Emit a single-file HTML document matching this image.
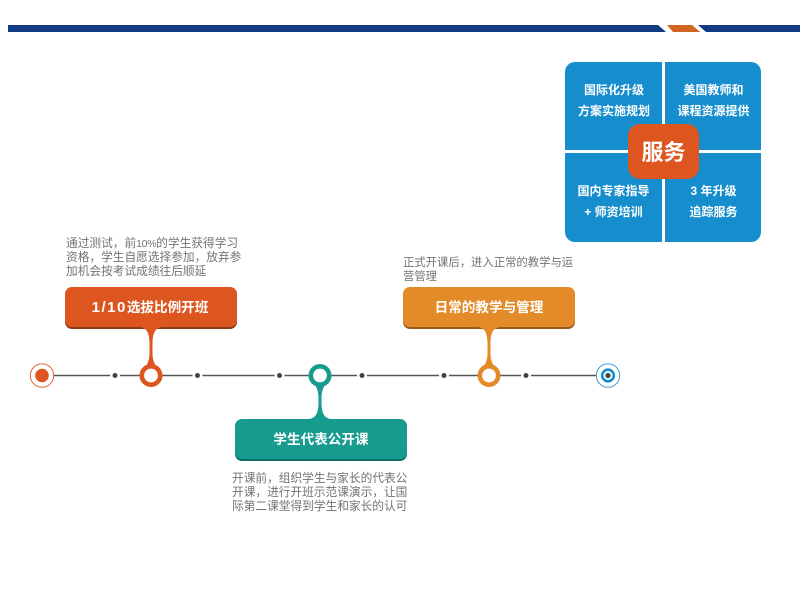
<!DOCTYPE html>
<html><head><meta charset="utf-8"><style>
html,body{margin:0;padding:0;background:#fff}
#p{position:relative;width:808px;height:600px;overflow:hidden;background:#fff;font-family:"Liberation Sans","Noto Sans CJK SC",sans-serif}
svg{position:absolute;left:0;top:0}
.t{position:absolute;color:#737373;font-size:11.7px;line-height:14px;white-space:nowrap}
.c{position:absolute;width:172px;text-align:center;color:#fff;font-weight:700;font-size:13.6px;line-height:18px;white-space:nowrap}
.s{position:absolute;width:97px;text-align:center;color:#fff;font-weight:700;font-size:12px;line-height:21px;white-space:nowrap}
</style></head><body><div id="p">
<svg width="808" height="600" viewBox="0 0 808 600">
<polygon points="8,25 658,25 666,32 8,32" fill="#123a85"/>
<polygon points="667,25 692,25 700,32 673,32" fill="#d0661f"/>
<polygon points="698,25 800,25 800,32 706,32" fill="#123a85"/>
<path d="M575,62H662V150H565V72A10,10 0 0 1 575,62Z" fill="#168dcc"/>
<path d="M665,62H751A10,10 0 0 1 761,72V150H665Z" fill="#168dcc"/>
<path d="M565,153H662V242H575A10,10 0 0 1 565,232Z" fill="#168dcc"/>
<path d="M665,153H761V232A10,10 0 0 1 751,242H665Z" fill="#168dcc"/>
<rect x="628" y="124" width="71" height="55" rx="12" fill="#de561f"/>
<line x1="54" y1="375.5" x2="597" y2="375.5" stroke="#555" stroke-width="1.6"/>
<g fill="#fff"><circle cx="115" cy="375.5" r="5"/><circle cx="197.5" cy="375.5" r="5"/><circle cx="279.5" cy="375.5" r="5"/><circle cx="362" cy="375.5" r="5"/><circle cx="444" cy="375.5" r="5"/><circle cx="526" cy="375.5" r="5"/></g>
<g fill="#444"><circle cx="115" cy="375.5" r="2.5"/><circle cx="197.5" cy="375.5" r="2.5"/><circle cx="279.5" cy="375.5" r="2.5"/><circle cx="362" cy="375.5" r="2.5"/><circle cx="444" cy="375.5" r="2.5"/><circle cx="526" cy="375.5" r="2.5"/></g>
<circle cx="42" cy="375.5" r="11.7" fill="#fff" stroke="#de561f" stroke-width="0.9"/>
<circle cx="42" cy="375.5" r="6.8" fill="#de561f"/>
<circle cx="608" cy="375.5" r="11.7" fill="#fff" stroke="#2b8fd6" stroke-width="0.9"/>
<circle cx="608" cy="375.5" r="5.8" fill="#fff" stroke="#168dcc" stroke-width="2.6"/>
<circle cx="608" cy="375.5" r="2.6" fill="#444"/>
<!-- orange card -->
<rect x="65" y="289" width="172" height="40" rx="7" fill="#8a3a16"/>
<rect x="65" y="287" width="172" height="40" rx="7" fill="#de561f"/>
<path d="M140,327C147,328 149,333 149.5,342L149.5,352C149.5,358 149,361 145.5,367L156.5,367C153,361 152.5,358 152.5,352L152.5,342C153,333 155,328 162,327Z" fill="#de561f"/>
<circle cx="151" cy="375.5" r="9.2" fill="#fff" stroke="#de561f" stroke-width="4.6"/>
<!-- teal card -->
<rect x="235" y="421" width="172" height="40" rx="7" fill="#0d6f66"/>
<rect x="235" y="419" width="172" height="40" rx="7" fill="#179b8e"/>
<path transform="translate(169,751) scale(1,-1)" d="M140,332C147,333 149,338 149.5,347L149.5,352C149.5,358 149,361 145.5,367L156.5,367C153,361 152.5,358 152.5,352L152.5,347C153,338 155,333 162,332Z" fill="#179b8e"/>
<circle cx="320" cy="375.5" r="9.2" fill="#fff" stroke="#179b8e" stroke-width="4.6"/>
<!-- amber card -->
<rect x="403" y="289" width="172" height="40" rx="7" fill="#95591a"/>
<rect x="403" y="287" width="172" height="40" rx="7" fill="#e48b29"/>
<path transform="translate(338,0)" d="M140,327C147,328 149,333 149.5,342L149.5,352C149.5,358 149,361 145.5,367L156.5,367C153,361 152.5,358 152.5,352L152.5,342C153,333 155,328 162,327Z" fill="#e48b29"/>
<circle cx="489" cy="375.5" r="9.2" fill="#fff" stroke="#e48b29" stroke-width="4.6"/>
</svg>
<div class="t" style="left:66px;top:237px">通过测试，前<span style="font-size:10.5px;letter-spacing:-.3px">10%</span>的学生获得学习<br>资格，学生自愿选择参加，放弃参<br>加机会按考试成绩往后顺延</div>
<div class="t" style="left:403px;top:256px;font-size:11.35px">正式开课后，进入正常的教学与运<br>营管理</div>
<div class="t" style="left:232px;top:472px">开课前，组织学生与家长的代表公<br>开课，进行开班示范课演示，让国<br>际第二课堂得到学生和家长的认可</div>
<div class="c" style="left:64px;top:299px"><span style="font-size:15px;letter-spacing:1.5px">1/10</span>选拔比例开班</div>
<div class="c" style="left:235px;top:431px">学生代表公开课</div>
<div class="c" style="left:403px;top:299px">日常的教学与管理</div>
<div class="s" style="left:565.5px;top:80px">国际化升级<br>方案实施规划</div>
<div class="s" style="left:665px;top:80px">美国教师和<br>课程资源提供</div>
<div class="s" style="left:565px;top:181px">国内专家指导<br>+ 师资培训</div>
<div class="s" style="left:665px;top:181px">3 年升级<br>追踪服务</div>
<div style="position:absolute;left:628px;top:138px;width:71px;text-align:center;color:#fff;font-weight:700;font-size:22px;line-height:29px">服务</div>
</div></body></html>
